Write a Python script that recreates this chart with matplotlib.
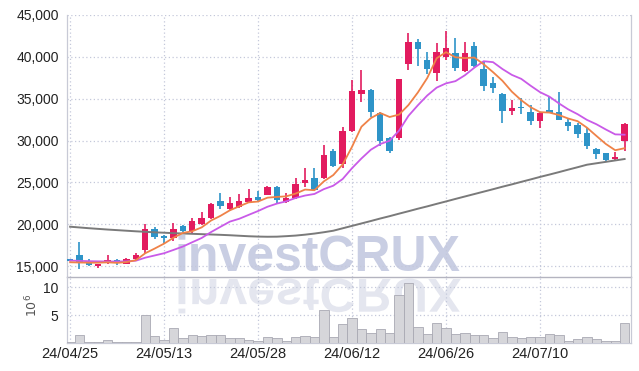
import matplotlib
matplotlib.use('Agg')
import matplotlib.pyplot as plt
import numpy as np
from matplotlib.font_manager import FontProperties
from matplotlib.textpath import TextPath
from matplotlib.patches import PathPatch
from matplotlib.transforms import Affine2D

# daily candles, 60 sessions from 24/04/25
tick_idx = [0, 10, 20, 30, 40, 50]
tick_labels = ['24/04/25', '24/05/13', '24/05/28', '24/06/12', '24/06/26', '24/07/10']

opens = [15800, 16300, 15500, 15000, 15450, 15700, 15250, 15800, 16900, 19400,
         18600, 18300, 19800, 19200, 20000, 20800, 22800, 21800, 22100, 22600,
         23200, 23500, 24500, 22600, 23100, 24950, 25500, 25500, 28750, 27150,
         31150, 35550, 36000, 33250, 30300, 30300, 39200, 41750, 39600, 38050,
         40000, 40400, 38350, 41300, 38550, 36900, 35550, 33550, 33950, 33350,
         32350, 33650, 33350, 32250, 31850, 30850, 28950, 28500, 27800, 29950]
highs = [15850, 17900, 15800, 15300, 16300, 15900, 15950, 16500, 20000, 19650,
         18650, 20200, 19900, 20700, 21500, 22550, 23700, 23200, 23550, 24150,
         23950, 24550, 24550, 23700, 25500, 26700, 26700, 29450, 28950, 31650,
         37250, 38400, 36150, 33400, 30400, 37400, 42800, 42150, 40550, 41600,
         43050, 42200, 41750, 41800, 39500, 37550, 35700, 34850, 35050, 34300,
         33350, 35350, 35850, 32550, 32150, 31450, 29050, 28550, 28600, 32050]
lows = [15600, 14650, 15000, 14800, 15300, 15150, 15200, 15750, 16600, 18250,
        17700, 18000, 19050, 18980, 19900, 20600, 21800, 21600, 21900, 22500,
        22700, 23450, 22550, 22500, 23000, 24400, 24000, 25350, 26800, 26750,
        31000, 34550, 32850, 29400, 28450, 30050, 38400, 38900, 37900, 37100,
        39600, 38350, 38200, 38800, 35900, 35650, 32150, 33050, 33150, 31850,
        31450, 33250, 32400, 31150, 30250, 28950, 27750, 27450, 27550, 28750]
closes = [15650, 15450, 15150, 15250, 15700, 15350, 15900, 16300, 19400, 18500,
          18300, 19400, 19200, 20400, 20800, 22400, 22200, 22500, 22800, 23150,
          22900, 24500, 22950, 23150, 24800, 25300, 24100, 28250, 26900, 31150,
          35900, 36050, 33400, 29950, 28750, 37350, 41750, 40900, 38600, 40550,
          41000, 38700, 40400, 38950, 36550, 36250, 33550, 33900, 33850, 32350,
          33300, 33300, 32450, 31750, 30750, 29400, 28400, 27650, 28000, 31950]

# moving average lines
ma5 = [15450, 15420, 15400, 15400, 15440, 15380, 15470, 15700, 16530, 17090,
       17680, 18380, 18960, 19160, 19620, 20440, 21000, 21660, 22140, 22610,
       22710, 23170, 23260, 23330, 23660, 24140, 24060, 25120, 25870, 27140,
       29260, 31650, 32680, 33290, 32810, 33100, 34240, 35740, 37470, 39830,
       40560, 39950, 39850, 39920, 39120, 38170, 37140, 35840, 34820, 33980,
       33390, 33340, 33050, 32630, 32310, 31530, 30550, 29590, 28840, 29080]
ma10 = [15650, 15620, 15580, 15560, 15540, 15540, 15560, 15640, 16000, 16265,
        16530, 16925, 17330, 17845, 18355, 19060, 19690, 20310, 20650, 21115,
        21575, 22085, 22460, 22735, 23135, 23425, 23615, 24190, 24600, 25400,
        26700, 27855, 28900, 29580, 29975, 31180, 32945, 34210, 35380, 36320,
        36830, 37095, 37795, 38695, 39475, 39365, 38545, 37845, 37370, 36550,
        35780, 35240, 34445, 33725, 33145, 32460, 31945, 31320, 30735, 30695]
ma_long = [19700, 19610, 19520, 19440, 19360, 19290, 19220, 19150, 19090, 19030,
           18980, 18930, 18890, 18850, 18810, 18770, 18730, 18680, 18620, 18560,
           18520, 18500, 18510, 18570, 18640, 18750, 18880, 19040, 19220, 19510,
           19800, 20090, 20380, 20680, 20960, 21260, 21550, 21850, 22130, 22430,
           22720, 23020, 23310, 23600, 23890, 24180, 24480, 24760, 25060, 25350,
           25650, 25930, 26220, 26520, 26810, 27110, 27280, 27450, 27620, 27790]

# volume in millions of shares
volumes = [0.15, 1.52, 0.25, 0.25, 0.49, 0.25, 0.25, 0.25, 5.12, 1.21,
           0.61, 2.78, 0.85, 1.52, 1.34, 1.52, 1.52, 0.85, 0.85, 0.61,
           0.43, 1.03, 0.85, 0.43, 1.15, 1.34, 1.03, 5.85, 1.10, 3.50,
           4.58, 2.45, 1.80, 2.45, 1.75, 8.60, 10.70, 2.95, 1.70, 3.68,
           2.78, 1.57, 1.88, 1.39, 1.52, 0.85, 2.06, 1.03, 0.85, 1.03,
           1.03, 1.70, 1.52, 0.43, 0.67, 1.03, 0.67, 0.43, 0.43, 3.68]

RED = '#e21b5f'
BLUE = '#2e94c8'
ORANGE = '#ef8248'
PURPLE = '#c95ae8'
GRAY = '#7a7a7a'
GRID = '#c4c8da'
SPINE = '#c8cad6'
TXT = '#222222'
FONT = ['Liberation Sans', 'DejaVu Sans']

plt.rcParams['font.family'] = FONT

W, H = 639, 371
fig = plt.figure(figsize=(W / 100, H / 100), dpi=100)
fig.patch.set_facecolor('white')
ax = fig.add_axes([67 / W, (H - 277) / H, (631 - 67) / W, (277 - 15) / H])
axv = fig.add_axes([67 / W, (H - 343) / H, (631 - 67) / W, (343 - 277) / H], sharex=ax)
for a in (ax, axv):
    a.set_facecolor('none')

x = np.arange(len(closes))
o = np.array(opens)
c = np.array(closes)
col = np.where(c >= o, RED, BLUE)
body_lo = np.minimum(o, c)
body_h = np.maximum(np.abs(c - o), 150)

ax.vlines(x, lows, highs, colors=col, lw=1.2, zorder=3)
ax.bar(x, body_h, bottom=body_lo, width=0.68, color=col, linewidth=0, zorder=4)
ax.plot(x, ma_long, color=GRAY, lw=1.4, zorder=5)
ax.plot(x, ma10, color=PURPLE, lw=1.3, zorder=5)
ax.plot(x, ma5, color=ORANGE, lw=1.3, zorder=6)

axv.bar(x, volumes, width=1.0, color='#d6d6da', edgecolor='#a9a9b3', linewidth=0.6, zorder=3)

ax.set_xlim(-0.33, 59.68)
ax.set_ylim(13690, 45000)
axv.set_ylim(0, 11.86)

yt = list(range(15000, 45001, 5000))
ax.set_yticks(yt)
ax.set_yticklabels([f'{v:,}' for v in yt])
axv.set_yticks([5, 10])
axv.set_yticklabels(['5', '10'])
axv.set_xticks(tick_idx)
axv.set_xticklabels(tick_labels)

for a in (ax, axv):
    a.grid(True, color=GRID, linestyle=(0, (1, 2)), lw=0.9, zorder=1)
    a.tick_params(length=0, labelsize=10, colors=TXT, pad=6)
    for s in a.spines.values():
        s.set_color(SPINE)
        s.set_linewidth(0.9)
ax.tick_params(axis='x', labelbottom=False)
ax.spines['top'].set_visible(False)
ax.spines['bottom'].set_color('#b4b4c0')
ax.spines['bottom'].set_linewidth(1.0)
axv.spines['top'].set_visible(False)
axv.tick_params(axis='x', pad=3, labelsize=10.5)

fig.text(32 / W, 1 - 305 / H, r'$10^6$', rotation=90, ha='center', va='center',
         fontsize=9, color='#555555')

# watermark and its reflection
wm_size = 50
fig.text(175 / W, (H - 271) / H, 'investCRUX', fontsize=wm_size * 0.72,
         fontweight='bold', color='#c9cee3', ha='left', va='baseline', zorder=-1)
fp = FontProperties(family='Liberation Sans', weight='bold')
tp = TextPath((0, 0), 'investCRUX', size=wm_size, prop=fp)
refl = PathPatch(tp, facecolor='#e4e6ef', edgecolor='none', zorder=-1)
refl.set_transform(Affine2D().scale(1, -0.95).translate(175, H - 279))
fig.add_artist(refl)

fig.savefig('out.png', dpi=100)
